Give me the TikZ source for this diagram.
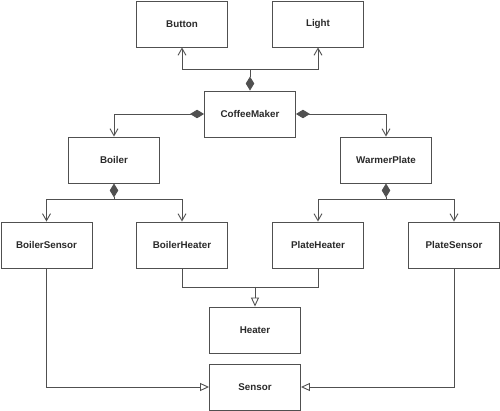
\documentclass[tikz,border=0pt]{standalone}
\usepackage{fontspec}
\setmainfont{Liberation Sans}
\usetikzlibrary{arrows.meta}
\definecolor{ln}{HTML}{505050}
\definecolor{tx}{HTML}{2a2a2a}
\tikzset{
  cls/.style={draw=ln, line width=0.9pt, fill=white, minimum width=91pt, minimum height=46pt,
    inner sep=0pt, text=tx, font=\bfseries\fontsize{9.8}{11}\selectfont},
  conn/.style={draw=ln, line width=0.9pt},
  dia/.style={conn, {Diamond[length=14pt, width=8.5pt, fill=ln]}-},
  diavee/.style={conn, {Diamond[length=14pt, width=8.5pt, fill=ln]}-{Straight Barb[length=7pt, width=8pt]}},
  vee/.style={conn, -{Straight Barb[length=7pt, width=8pt]}},
  tri/.style={conn, -{Triangle[open, length=9pt, width=8pt, fill=white]}}
}
\begin{document}
\begin{tikzpicture}[x=1pt, y=-1pt]
\useasboundingbox (0,0) rectangle (500,411);
\node[cls] (Button) at (182,24) {Button};
\node[cls] (Light) at (318,24) {Light};
\node[cls] (CoffeeMaker) at (250,114) {CoffeeMaker};
\node[cls] (Boiler) at (114,160) {Boiler};
\node[cls] (WarmerPlate) at (386,160) {WarmerPlate};
\node[cls] (BoilerSensor) at (46.5,245) {BoilerSensor};
\node[cls] (BoilerHeater) at (182,245) {BoilerHeater};
\node[cls] (PlateHeater) at (318,245) {PlateHeater};
\node[cls] (PlateSensor) at (454,245) {PlateSensor};
\node[cls] (Heater) at (255,330) {Heater};
\node[cls] (Sensor) at (255,387) {Sensor};

\coordinate (jt) at (250,69);
\coordinate (jb) at (114,199);
\coordinate (jw) at (386,199);
\coordinate (jh) at (255,287);

\draw[dia] (CoffeeMaker.north) -- (jt);
\draw[vee] (jt) -| (Button.south);
\draw[vee] (jt) -| (Light.south);

\draw[diavee] (CoffeeMaker.west) -| (Boiler.north);
\draw[diavee] (CoffeeMaker.east) -| (WarmerPlate.north);

\draw[dia] (Boiler.south) -- (jb);
\draw[vee] (jb) -| (BoilerSensor.north);
\draw[vee] (jb) -| (BoilerHeater.north);

\draw[dia] (WarmerPlate.south) -- (jw);
\draw[vee] (jw) -| (PlateHeater.north);
\draw[vee] (jw) -| (PlateSensor.north);

\draw[conn] (BoilerHeater.south) |- (jh);
\draw[conn] (PlateHeater.south) |- (jh);
\draw[tri] (jh) -- (Heater.north);

\draw[tri] (BoilerSensor.south) |- (Sensor.west);
\draw[tri] (PlateSensor.south) |- (Sensor.east);
\end{tikzpicture}
\end{document}
